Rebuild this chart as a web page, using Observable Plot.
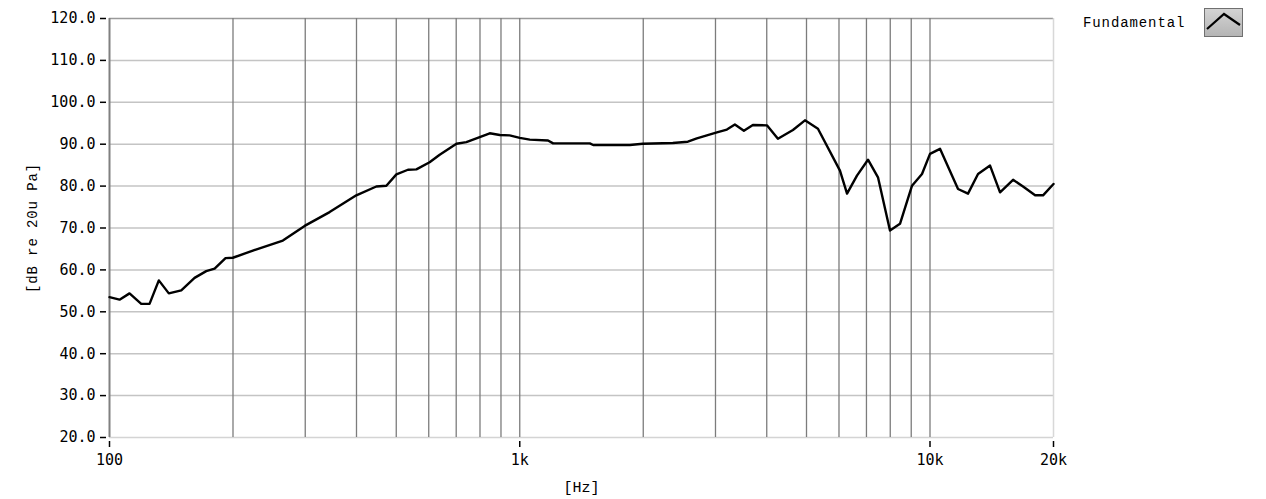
<!DOCTYPE html>
<html><head><meta charset="utf-8">
<script src="https://cdn.jsdelivr.net/npm/d3@7"></script>
<script src="https://cdn.jsdelivr.net/npm/@observablehq/plot@0.6"></script>
<style>
body{margin:0;background:#fff}
#wrap{position:relative;width:1266px;height:499px;overflow:hidden}
#legend{position:absolute;left:1083px;top:8px;display:flex;align-items:center;font-family:"Liberation Mono",monospace;font-size:14px;letter-spacing:0.9px;color:#000}
#legend svg{margin-left:19px}
</style>
</head><body><div id="wrap"><div id="legend"></div></div>
<script>
const seriesName = "Fundamental";
const freqHz = [100,105.8,111.9,119.5,125.2,131.9,139.5,149.6,161.2,172.1,180.4,191.8,199.8,223.6,264.6,299,344,399.6,447,473,500.4,534,559.8,603,638,701,741,784,845,894,945,1000,1058,1172,1206,1482,1510,1855,1995,2361,2569,2702,3024,3198,3345,3518,3701,4004,4259,4634,4957,5332,6033,6277,6637,7061,7468,7988,8450,9040,9561,10000,10578,11704,12378,13094,14008,14816,15939,16857,18040,18861,20000];
const levelDb = [53.5,52.9,54.4,51.9,51.9,57.5,54.4,55.1,58.1,59.7,60.3,62.8,62.9,64.6,67.0,70.5,73.8,77.8,79.9,80.1,82.8,83.9,84.0,85.7,87.5,90.1,90.5,91.4,92.6,92.2,92.1,91.5,91.1,90.9,90.2,90.2,89.8,89.8,90.1,90.3,90.6,91.4,92.8,93.5,94.7,93.2,94.6,94.5,91.3,93.4,95.7,93.7,83.7,78.2,82.5,86.3,82.1,69.4,71.0,80.1,82.9,87.7,88.9,79.3,78.2,82.9,84.9,78.5,81.5,79.9,77.8,77.8,80.5];
const yTicks = [20,30,40,50,60,70,80,90,100,110,120];
const xTicks = [100,1000,10000,20000];
const xTickLabels = ["100","1k","10k","20k"];
const gridFreqs = [200,300,400,500,600,700,800,900,1000,2000,3000,4000,5000,6000,7000,8000,9000,10000];
const yLabel = "[dB re 20u Pa]";
const xLabel = "[Hz]";

const data = freqHz.map((f, i) => ({f, db: levelDb[i]}));
const mono = "Liberation Mono";

const chart = Plot.plot({
  width: 1266, height: 499,
  marginLeft: 109, marginRight: 213, marginTop: 18, marginBottom: 62,
  x: {type: "log", domain: [100, 20000]},
  y: {domain: [20, 120]},
  style: {fontFamily: "DejaVu Sans Mono", fontSize: "15px", color: "#000", background: "#fff"},
  marks: [
    Plot.ruleY(yTicks.slice(1, -1), {stroke: "#c4c4c4", strokeWidth: 1.5}),
    Plot.ruleY([20], {stroke: "#d4d4d4", strokeWidth: 1.5}),
    Plot.ruleY([120], {stroke: "#9a9a9a", strokeWidth: 1.5}),
    Plot.ruleX(gridFreqs, {stroke: "#7c7c7c", strokeWidth: 1.3}),
    Plot.ruleX([20000], {stroke: "#d8d8d8", strokeWidth: 1.5}),
    Plot.ruleX([100], {stroke: "#808080", strokeWidth: 2}),
    Plot.line(data, {x: "f", y: "db", stroke: "#000", strokeWidth: 2.4, strokeLinejoin: "round"}),
    Plot.axisY(yTicks, {tickFormat: d => d.toFixed(1), tickSize: 6, tickPadding: 5, dx: -3, label: null, stroke: "#000", strokeWidth: 1.5, fontSize: 15}),
    Plot.axisX(xTicks, {tickFormat: d => xTickLabels[xTicks.indexOf(d)], tickSize: 6, tickPadding: 7, dy: 4, label: null, stroke: "#000", strokeWidth: 1.5, fontSize: 15}),
    Plot.text([yLabel], {frameAnchor: "left", textAnchor: "middle", dx: -77, rotate: -90, fontFamily: mono, fontSize: 14, fill: "#000"}),
    Plot.text([xLabel], {frameAnchor: "bottom", textAnchor: "middle", dy: 54, dx: 0, fontFamily: mono, fontSize: 15, fill: "#000"})
  ]
});
document.getElementById("wrap").prepend(chart);
d3.select(chart).selectAll("text").filter(function(){ return this.textContent === yLabel; }).style("letter-spacing", "0.9px");

const lg = document.getElementById("legend");
lg.innerHTML = `<span>${seriesName}</span><svg width="39" height="29" viewBox="0 0 39 29"><defs><linearGradient id="lgG" x1="0" y1="0" x2="0" y2="1"><stop offset="0" stop-color="#d4d4d4"/><stop offset="1" stop-color="#b4b4b4"/></linearGradient></defs><rect x="0.5" y="0.5" width="38" height="28" fill="url(#lgG)" stroke="#707070"/><polyline points="3,21 20,6 36,17" fill="none" stroke="#000" stroke-width="2.2"/></svg>`;
</script>
</body></html>
